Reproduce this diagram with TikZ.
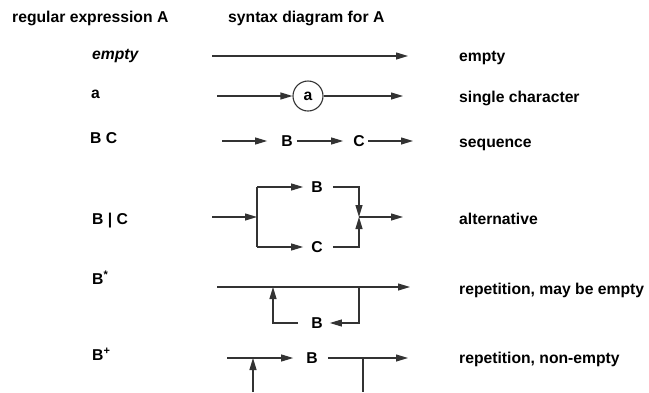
\documentclass[tikz,border=0pt]{standalone}
\usepackage{fontspec}
\setmainfont{Liberation Sans}
\usetikzlibrary{arrows.meta}
\tikzset{
  every node/.style={font=\fontsize{15.7}{18}\selectfont\bfseries, inner sep=0pt},
  lbl/.style={anchor=base west},
  ln/.style={line width=1.1pt, draw=black!80},
  arr/.style={ln, -{Triangle[length=12pt,width=7pt]}},
}
\begin{document}
\begin{tikzpicture}[x=1pt,y=-1pt]
\useasboundingbox (0,0) rectangle (649,392);
% headers
\node[lbl] (h1) at (12,22) {regular expression A};
\node[lbl] (h2) at (228,22) {syntax diagram for A};
% left column
\node[lbl] (x1) at (92,59) {\itshape empty};
\node[lbl] (x2) at (91,98) {a};
\node[lbl] (x3) at (90,143) {B C};
\node[lbl] (x4) at (92,224) {B | C};
\node[lbl] (x5) at (92,284) {B\textsuperscript{*}};
\node[lbl] (x6) at (92,360) {B\textsuperscript{+}};
% right column
\node[lbl] (d1) at (459,61) {empty};
\node[lbl] (d2) at (459,102) {single character};
\node[lbl] (d3) at (459,147) {sequence};
\node[lbl] (d4) at (459,224) {alternative};
\node[lbl] (d5) at (459,294) {repetition, may be empty};
\node[lbl] (d6) at (459,363) {repetition, non-empty};
% row 1: empty
\coordinate (e0) at (212,56);
\coordinate (e1) at (408,56);
\draw[arr] (e0) -- (e1);
% row 2: single character
\coordinate (a0) at (217,96);
\node[circle, draw=black!80, line width=1.1pt, minimum size=30pt] (ca) at (308,96) {a};
\coordinate (a1) at (403,96);
\draw[arr] (a0) -- (ca.west);
\draw[arr] (ca.east) -- (a1);
% row 3: sequence
\coordinate (s0) at (222,141);
\node (sB) at (287,141) {B};
\node (sC) at (359,141) {C};
\coordinate (s1) at (413,141);
\draw[arr] (s0) -- ([xshift=-14pt]sB.west);
\draw[arr] ([xshift=4pt]sB.east) -- ([xshift=-10pt]sC.west);
\draw[arr] ([xshift=3pt]sC.east) -- (s1);
% row 4: alternative
\coordinate (l0) at (212,217);
\coordinate (sp) at (257,217);
\coordinate (tl) at (257,187);
\coordinate (bl) at (257,247);
\node (vB) at (317,187) {B};
\node (vC) at (317,247) {C};
\coordinate (jn) at (359,217);
\coordinate (l1) at (403,217);
\draw[arr] (l0) -- (sp);
\draw[ln] (tl) -- (bl);
\draw[arr] (tl) -- ([xshift=-8pt]vB.west);
\draw[arr] (bl) -- ([xshift=-8pt]vC.west);
\draw[arr] ([xshift=10pt]vB.east) -| (jn);
\draw[arr] ([xshift=10pt]vC.east) -| (jn);
\draw[arr] (jn) -- (l1);
% row 5: repetition, may be empty
\coordinate (r0) at (217,287);
\coordinate (r1) at (410,287);
\coordinate (rs) at (273,287);
\coordinate (rj) at (359,287);
\node (rB) at (317,323) {B};
\draw[arr] (r0) -- (r1);
\draw[arr] (rj) |- ([xshift=7pt]rB.east);
\draw[arr] ([xshift=-13pt]rB.west) -| (rs);
% row 6: repetition, non-empty
\coordinate (p0) at (227,358);
\coordinate (p1) at (408,358);
\coordinate (ps) at (253,358);
\coordinate (pj) at (363,358);
\coordinate (pL) at (253,392);
\coordinate (pR) at (363,392);
\node (pB) at (312,358) {B};
\draw[arr] (p0) -- ([xshift=-13pt]pB.west);
\draw[arr] ([xshift=10pt]pB.east) -- (p1);
\draw[arr] (pL) -- (ps);
\draw[ln] (pj) -- (pR);
\end{tikzpicture}
\end{document}
